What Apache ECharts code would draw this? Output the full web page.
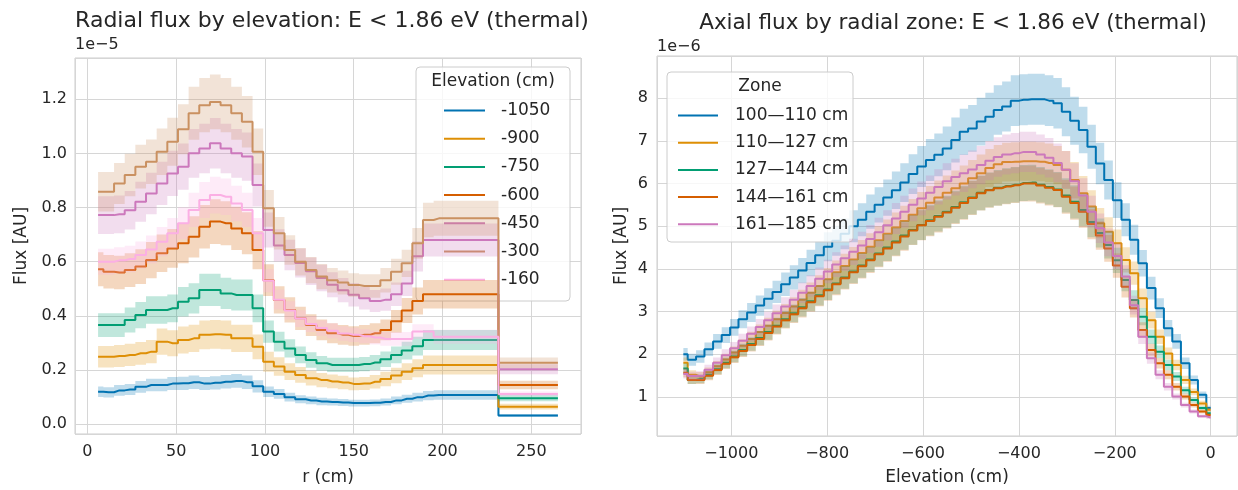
<!DOCTYPE html>
<html><head><meta charset="utf-8">
<script src="https://cdn.jsdelivr.net/npm/echarts@6/dist/echarts.min.js"></script>
<style>html,body{margin:0;padding:0;background:#fff}#c{width:1238px;height:490px}</style>
</head><body><div id="c"></div><script>
// ---------- Left panel: radial flux by elevation (units of 1e-5) ----------
const rPositions = [6,12,18,24,30,36,42,48,54,60,66,72,78,84,90,96,102,108,114,120,126,132,138,144,150,156,162,168,174,180,186,192,198,265];
const elevationLabels = ['-1050','-900','-750','-600','-450','-300','-160'];
const radM1050 = [0.120,0.118,0.125,0.128,0.138,0.145,0.145,0.150,0.151,0.155,0.150,0.153,0.157,0.160,0.155,0.140,0.120,0.112,0.100,0.092,0.088,0.084,0.082,0.080,0.078,0.078,0.079,0.082,0.088,0.094,0.100,0.106,0.108,0.032];
const radM900  = [0.249,0.249,0.252,0.256,0.262,0.268,0.305,0.299,0.311,0.317,0.330,0.332,0.330,0.317,0.317,0.286,0.231,0.213,0.194,0.182,0.170,0.163,0.158,0.154,0.149,0.150,0.157,0.167,0.180,0.194,0.207,0.219,0.219,0.065];
const radM750  = [0.366,0.366,0.366,0.385,0.403,0.422,0.422,0.428,0.452,0.465,0.496,0.496,0.483,0.477,0.477,0.428,0.342,0.305,0.280,0.256,0.237,0.225,0.219,0.219,0.219,0.222,0.228,0.240,0.256,0.272,0.288,0.311,0.311,0.096];
const radM600  = [0.572,0.563,0.560,0.569,0.582,0.606,0.631,0.649,0.668,0.692,0.729,0.748,0.742,0.723,0.705,0.643,0.532,0.459,0.422,0.391,0.366,0.348,0.336,0.330,0.326,0.330,0.336,0.348,0.380,0.420,0.455,0.480,0.480,0.145];
const radM450  = [0.772,0.772,0.775,0.790,0.821,0.852,0.889,0.926,0.951,1.000,1.018,1.037,1.018,1.000,0.988,0.883,0.717,0.660,0.625,0.595,0.565,0.540,0.515,0.495,0.478,0.465,0.455,0.460,0.480,0.520,0.620,0.680,0.680,0.203];
const radM300  = [0.858,0.858,0.889,0.920,0.951,0.969,1.006,1.043,1.089,1.148,1.178,1.190,1.178,1.148,1.117,1.006,0.797,0.705,0.643,0.600,0.569,0.545,0.532,0.523,0.514,0.510,0.510,0.532,0.563,0.594,0.668,0.754,0.760,0.227];
const radM160  = [0.600,0.600,0.605,0.610,0.625,0.645,0.674,0.705,0.742,0.791,0.828,0.846,0.840,0.815,0.791,0.705,0.530,0.460,0.420,0.390,0.370,0.355,0.345,0.335,0.330,0.325,0.320,0.315,0.315,0.315,0.342,0.342,0.323,0.112];
const radRelErr = [0.16,0.16,0.12,0.11,0.09,0.085,0.08];

// ---------- Right panel: axial flux by radial zone (units of 1e-6) ----------
const elevPositions = [-1100,-1082,-1065,-1047,-1029,-1011,-994,-976,-958,-940,-923,-905,-887,-869,-852,-834,-816,-798,-781,-763,-745,-727,-710,-692,-674,-656,-639,-621,-603,-585,-568,-550,-532,-515,-497,-479,-461,-444,-426,-408,-390,-373,-355,-337,-319,-302,-284,-266,-248,-231,-213,-195,-177,-160,-142,-124,-106,-89,-71,-53,-35,-18,0];
const zoneLabels = ['100\u2014110 cm','110\u2014127 cm','127\u2014144 cm','144\u2014161 cm','161\u2014185 cm'];
const axZ100 = [2.00,1.87,1.95,2.12,2.30,2.45,2.63,2.82,2.98,3.14,3.30,3.46,3.64,3.80,3.96,4.14,4.32,4.52,4.66,4.82,5.00,5.15,5.34,5.50,5.67,5.84,6.02,6.22,6.40,6.55,6.67,6.82,7.02,7.21,7.29,7.45,7.56,7.72,7.80,7.94,7.96,7.97,7.97,7.94,7.88,7.68,7.47,7.25,6.86,6.47,6.08,5.61,5.15,4.68,4.13,3.55,3.08,2.61,2.30,1.79,1.40,1.05,0.74];
const axZ110 = [1.80,1.52,1.48,1.58,1.72,1.88,2.04,2.20,2.36,2.52,2.67,2.82,2.97,3.12,3.28,3.44,3.60,3.76,3.92,4.07,4.22,4.37,4.52,4.67,4.82,4.97,5.12,5.27,5.42,5.55,5.67,5.78,5.89,6.00,6.12,6.24,6.36,6.45,6.50,6.51,6.52,6.52,6.51,6.48,6.43,6.32,6.08,5.77,5.46,5.07,4.87,4.60,4.21,3.90,3.31,2.80,2.41,2.02,1.75,1.40,1.12,0.85,0.70];
const axZ127 = [1.67,1.40,1.42,1.52,1.65,1.80,1.95,2.10,2.24,2.38,2.52,2.67,2.82,2.96,3.10,3.24,3.38,3.52,3.66,3.80,3.94,4.08,4.22,4.36,4.50,4.64,4.78,4.91,5.03,5.14,5.24,5.34,5.45,5.56,5.67,5.78,5.85,5.90,5.94,5.97,6.01,6.02,5.97,5.92,5.86,5.72,5.57,5.38,5.10,4.84,4.56,4.20,3.74,3.27,2.88,2.41,2.06,1.75,1.48,1.16,0.93,0.74,0.62];
const axZ144 = [1.57,1.40,1.40,1.50,1.63,1.78,1.93,2.08,2.22,2.36,2.50,2.65,2.80,2.94,3.08,3.22,3.36,3.50,3.64,3.78,3.92,4.06,4.20,4.34,4.48,4.62,4.76,4.90,5.02,5.12,5.22,5.32,5.43,5.54,5.66,5.77,5.84,5.89,5.93,5.96,6.00,6.00,5.95,5.90,5.85,5.69,5.54,5.34,5.05,4.78,4.48,4.08,3.58,3.08,2.57,2.10,1.79,1.52,1.24,1.01,0.81,0.66,0.58];
const axZ161 = [1.54,1.49,1.50,1.64,1.80,1.98,2.14,2.32,2.48,2.64,2.80,2.96,3.12,3.28,3.44,3.60,3.77,3.94,4.10,4.25,4.40,4.55,4.70,4.86,5.02,5.18,5.34,5.50,5.65,5.78,5.92,6.05,6.15,6.24,6.33,6.43,6.53,6.62,6.68,6.71,6.74,6.74,6.68,6.60,6.48,6.32,6.05,5.72,5.34,4.95,4.62,4.30,3.82,3.15,2.41,1.91,1.52,1.24,1.01,0.81,0.66,0.55,0.52];
const axRelErr = [0.075,0.07,0.07,0.07,0.07];

const radSeries = [radM1050, radM900, radM750, radM600, radM450, radM300, radM160];
const axSeries = [axZ100, axZ110, axZ127, axZ144, axZ161];
const radColors = ['#0173b2','#de8f05','#029e73','#d55e00','#cc78bc','#ca9161','#fbafe4'];
const zoneColors = ['#0173b2','#de8f05','#029e73','#d55e00','#cc78bc'];

const FONT = 'DejaVu Sans';
const TXT = '#262626';
const GRIDC = '#d6d6d6';

function hexA(h, a){ const n=parseInt(h.slice(1),16); return 'rgba('+(n>>16&255)+','+(n>>8&255)+','+(n&255)+','+a+')'; }
function midEdges(xs){ const e=[xs[0]]; for(let i=1;i<xs.length;i++) e.push((xs[i-1]+xs[i])/2); e.push(xs[xs.length-1]); return e; }

function band(gi, xs, ys, err, color, z){
  const e = midEdges(xs);
  return {type:'custom', xAxisIndex:gi, yAxisIndex:gi, z:z, silent:true, animation:false,
    data:[[xs[0], ys[0]]],
    renderItem:function(params, api){
      const up=[], lo=[];
      for(let i=0;i<ys.length;i++){
        const hi=ys[i]*(1+err), l=ys[i]*(1-err);
        up.push(api.coord([e[i],hi]), api.coord([e[i+1],hi]));
        lo.push(api.coord([e[i],l]), api.coord([e[i+1],l]));
      }
      return {type:'polygon', shape:{points: up.concat(lo.reverse())}, style:{fill:hexA(color,0.25), stroke:null}};
    }};
}
function line(gi, name, xs, ys, color, z){
  return {type:'line', name:name, xAxisIndex:gi, yAxisIndex:gi, z:z, step:'middle', showSymbol:false, symbol:'none',
    animation:false, data: xs.map((x,i)=>[x, ys[i]]), lineStyle:{width:2, color:color}, itemStyle:{color:color},
    emphasis:{disabled:true}};
}

const series = [];
radSeries.forEach((ys,i)=>{ series.push(band(0, rPositions, ys, radRelErr[i], radColors[i], 2+2*i)); series.push(line(0, elevationLabels[i], rPositions, ys, radColors[i], 3+2*i)); });
axSeries.forEach((ys,i)=>{ series.push(band(1, elevPositions, ys, axRelErr[i], zoneColors[i], 2+2*i)); series.push(line(1, zoneLabels[i], elevPositions, ys, zoneColors[i], 3+2*i)); });

function fmtMult(step, dec){ return function(v){ const q=v/step; if(Math.abs(q-Math.round(q))>1e-6) return ''; return (Math.round(q)*step).toFixed(dec).replace('-', '\u2212'); }; }

const NAME_STYLE = {color:TXT, fontFamily:FONT, fontSize:17};
const LABEL_STYLE = {color:TXT, fontFamily:FONT, fontSize:16};

function axis(extra, labelExtra){
  return Object.assign({axisLine:{show:false}, axisTick:{show:false},
    splitLine:{show:true, lineStyle:{color:GRIDC, width:1}},
    nameTextStyle:Object.assign({}, NAME_STYLE),
    axisLabel:Object.assign({}, LABEL_STYLE, labelExtra)}, extra);
}

const option = {
  backgroundColor:'#ffffff',
  animation:false,
  textStyle:{fontFamily:FONT},
  title:[
    {text:'Radial flux by elevation: E < 1.86 eV (thermal)', left:327, top:5, textAlign:'center', textStyle:{fontFamily:FONT, fontSize:22, fontWeight:'normal', color:TXT}},
    {text:'Axial flux by radial zone: E < 1.86 eV (thermal)', left:948, top:7, textAlign:'center', textStyle:{fontFamily:FONT, fontSize:21.5, fontWeight:'normal', color:TXT}}
  ],
  grid:[
    {left:75, top:58, width:506, height:376, show:true, borderColor:'#cccccc', borderWidth:1, containLabel:false, outerBoundsMode:'none'},
    {left:657, top:56, width:580, height:380, show:true, borderColor:'#cccccc', borderWidth:1, containLabel:false, outerBoundsMode:'none'}
  ],
  xAxis:[
    axis({type:'value', gridIndex:0, min:-7, max:278, splitNumber:6, name:'r (cm)', nameLocation:'middle', nameGap:35}, {margin:10, formatter:fmtMult(50,0)}),
    axis({type:'value', gridIndex:1, min:-1155, max:55, splitNumber:6, name:'Elevation (cm)', nameLocation:'middle', nameGap:33}, {margin:10, formatter:fmtMult(200,0)})
  ],
  yAxis:[
    axis({type:'value', gridIndex:0, min:-0.036, max:1.352, splitNumber:7, name:'Flux [AU]', nameLocation:'middle', nameGap:45, nameRotate:90}, {margin:8, formatter:fmtMult(0.2,1)}),
    axis({type:'value', gridIndex:1, min:0.087, max:8.985, splitNumber:9, name:'Flux [AU]', nameLocation:'middle', nameGap:27, nameRotate:90}, {margin:9, formatter:fmtMult(1,0)})
  ],
  legend:[
    {data:elevationLabels, orient:'vertical', left:439, top:97, icon:'rect', itemWidth:41, itemHeight:2, itemGap:11.2,
     textStyle:{fontFamily:FONT, fontSize:17, color:TXT, padding:[0,0,0,11]}, selectedMode:false, z:6},
    {data:zoneLabels, orient:'vertical', left:673, top:102, icon:'rect', itemWidth:40, itemHeight:2, itemGap:10.2,
     textStyle:{fontFamily:FONT, fontSize:17, color:TXT, padding:[0,0,0,12]}, selectedMode:false, z:6}
  ],
  graphic:[
    {type:'rect', z:5, shape:{x:416, y:67, width:154, height:234, r:4}, style:{fill:'rgba(255,255,255,0.8)', stroke:'#cccccc', lineWidth:1}},
    {type:'rect', z:5, shape:{x:667, y:72, width:186, height:170, r:4}, style:{fill:'rgba(255,255,255,0.8)', stroke:'#cccccc', lineWidth:1}},
    {type:'text', z:7, x:493, y:82, style:{text:'Elevation (cm)', font:'17px "DejaVu Sans"', fill:TXT, textAlign:'center', textVerticalAlign:'middle'}},
    {type:'text', z:7, x:760, y:87, style:{text:'Zone', font:'17px "DejaVu Sans"', fill:TXT, textAlign:'center', textVerticalAlign:'middle'}},
    {type:'text', z:7, x:75, y:45, style:{text:'1e\u22125', font:'16px "DejaVu Sans"', fill:TXT, textAlign:'left', textVerticalAlign:'middle'}},
    {type:'text', z:7, x:657, y:47, style:{text:'1e\u22126', font:'16px "DejaVu Sans"', fill:TXT, textAlign:'left', textVerticalAlign:'middle'}}
  ],
  series: series
};
const chart = echarts.init(document.getElementById('c'), null, {renderer:'canvas'});
chart.setOption(option);
</script></body></html>
